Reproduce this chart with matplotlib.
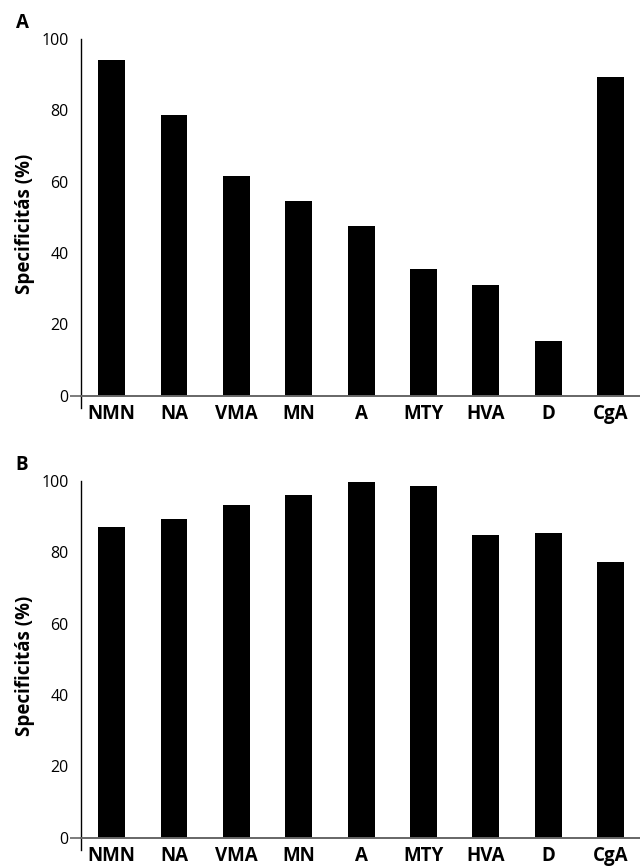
import numpy as np
import matplotlib
matplotlib.use("Agg")
import matplotlib.pyplot as plt

plt.rcParams['font.family'] = ['Open Sans', 'DejaVu Sans']

labels = ["NMN", "NA", "VMA", "MN", "A", "MTY", "HVA", "D", "CgA"]
spec_a = [94.2, 78.8, 61.6, 54.6, 47.6, 35.5, 31.0, 15.3, 89.4]
spec_b = [87.0, 89.3, 93.2, 96.0, 99.6, 98.5, 84.8, 85.4, 77.3]
yticks = [0, 20, 40, 60, 80, 100]
ylab = "Specificitás (%)"

W, H = 640, 868
fig = plt.figure(figsize=(W / 100, H / 100), dpi=100)

def panel(bottom_px, vals, letter, letter_y):
    ax = fig.add_axes([81 / W, 1 - bottom_px / H, 559 / W, 369 / H])
    # spine position first: it resets the tick settings
    for s in ['top', 'right']:
        ax.spines[s].set_visible(False)
    ax.spines['bottom'].set_position(('data', 0))
    ax.spines['bottom'].set_color('#666666')
    ax.spines['bottom'].set_linewidth(1.4)
    ax.spines['left'].set_linewidth(1.0)

    x = np.arange(len(labels))
    ax.bar(x, vals, width=0.43, color='black')
    ax.set_xlim(-0.49, 8.47)
    ax.set_ylim(-3.4, 100)
    ax.set_yticks(yticks)
    ax.set_yticklabels([str(t) for t in yticks], fontsize=11.5)
    ax.yaxis.remove_overlapping_locs = False
    ax.set_yticks([0], minor=True)
    ax.tick_params(axis='y', which='major', length=0, pad=9)
    ax.tick_params(axis='y', which='minor', length=8, width=1.2, color='#666666')
    ax.set_xticks(x)
    ax.set_xticklabels(labels, fontsize=13.5, fontweight='bold')
    ax.tick_params(axis='x', length=0, pad=6)
    ax.set_ylabel(ylab, fontsize=13.5, fontweight='bold')
    ax.yaxis.set_label_coords(-46 / 559, 0.5)
    fig.text(22 / W, 1 - letter_y / H, letter, fontsize=13.5, fontweight='bold',
             ha='center', va='center')
    return ax

panel(408, spec_a, "A", 23)
panel(850, spec_b, "B", 465)

fig.savefig("out.png", dpi=100)
